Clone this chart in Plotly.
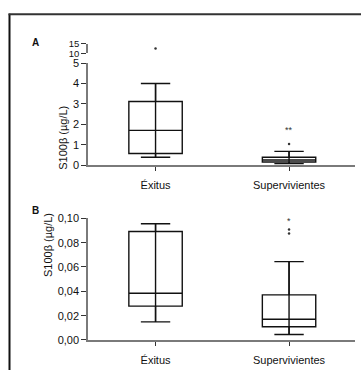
import plotly.graph_objects as go

W, H = 361, 376

cats = ["Éxitus", "Supervivientes"]

# Panel A (S100β µg/L)
a_low = [0.38, 0.07]
a_q1 = [0.57, 0.15]
a_med = [1.70, 0.25]
a_q3 = [3.12, 0.38]
a_high = [4.0, 0.67]
a_out_cat = ["Éxitus", "Supervivientes"]
a_out_val = [12.5, 1.03]
a_sig_cat = ["Supervivientes"]
a_sig_val = [1.74]
a_sig_txt = ["**"]
a_ticks_low = [0, 1, 2, 3, 4, 5]
a_ticks_up = [10, 15]

# Panel B
b_low = [0.0149, 0.0045]
b_q1 = [0.0278, 0.0109]
b_med = [0.0384, 0.0170]
b_q3 = [0.0891, 0.0371]
b_high = [0.0955, 0.0644]
b_out_cat = ["Supervivientes", "Supervivientes"]
b_out_val = [0.0907, 0.0875]
b_sig_cat = ["Supervivientes"]
b_sig_val = [0.0976]
b_sig_txt = ["*"]
b_ticks = [0.0, 0.02, 0.04, 0.06, 0.08, 0.10]
b_tick_txt = [f"{v:.2f}".replace(".", ",") for v in b_ticks]

FONT = "Liberation Sans, Arial, sans-serif"
AX = "#7a7a7a"

def px_x(p):
    return p / W

def px_y(p):
    return 1 - p / H

fig = go.Figure()

def add_panel(xa, ya, low, q1, med, q3, high):
    fig.add_trace(go.Box(
        x=cats, q1=q1, median=med, q3=q3, lowerfence=low, upperfence=high,
        width=0.4, whiskerwidth=0.55, fillcolor="rgba(0,0,0,0)",
        line=dict(color="#111", width=1.4), boxpoints=False,
        xaxis=xa, yaxis=ya, showlegend=False, hoverinfo="skip"))
    for c, lo, hi in zip(cats, low, high):
        fig.add_trace(go.Scatter(
            x=[c, c], y=[lo, hi], mode="lines",
            line=dict(color="#111", width=1.4),
            xaxis=xa, yaxis=ya, showlegend=False, hoverinfo="skip"))

add_panel("x", "y", a_low, a_q1, a_med, a_q3, a_high)
add_panel("x3", "y3", b_low, b_q1, b_med, b_q3, b_high)

# outliers panel A: split between broken axis parts
for c, v in zip(a_out_cat, a_out_val):
    fig.add_trace(go.Scatter(
        x=[c], y=[v], mode="markers",
        marker=dict(color="#333", size=2.5),
        xaxis="x2" if v >= 10 else "x", yaxis="y2" if v >= 10 else "y",
        showlegend=False, hoverinfo="skip"))
fig.add_trace(go.Scatter(
    x=b_out_cat, y=b_out_val, mode="markers",
    marker=dict(color="#333", size=2.5),
    xaxis="x3", yaxis="y3", showlegend=False, hoverinfo="skip"))

for c, v, t in zip(a_sig_cat, a_sig_val, a_sig_txt):
    fig.add_annotation(x=c, y=v, xref="x", yref="y", text=t, showarrow=False,
                       font=dict(size=9, color="#333", family=FONT))
for c, v, t in zip(b_sig_cat, b_sig_val, b_sig_txt):
    fig.add_annotation(x=c, y=v, xref="x3", yref="y3", text=t, showarrow=False,
                       font=dict(size=9, color="#333", family=FONT))

xdom = [px_x(88), px_x(355)]
xrange = [-0.506, 1.494]

def tf(size=11):
    return dict(size=size, color="#111", family=FONT)

common_x = dict(domain=xdom, range=xrange, type="category",
                categoryorder="array", categoryarray=cats,
                showline=True, linecolor=AX, linewidth=1.5,
                ticks="outside", ticklen=4, tickcolor="#333", tickwidth=1,
                ticklabelstandoff=5,
                tickfont=tf(), showgrid=False, zeroline=False)
common_y = dict(showline=True, linecolor=AX, linewidth=1.5,
                ticks="outside", ticklen=5, tickcolor="#333", tickwidth=1,
                showgrid=False, zeroline=False)

fig.update_layout(
    width=W, height=H,
    margin=dict(l=0, r=0, t=0, b=0),
    paper_bgcolor="white", plot_bgcolor="white",
    font=dict(family=FONT),
    xaxis=dict(**common_x, anchor="y"),
    yaxis=dict(**common_y, domain=[px_y(164.3), px_y(59)], range=[0, 5],
               tickvals=a_ticks_low, anchor="x", tickfont=tf()),
    xaxis2=dict(domain=xdom, range=xrange, type="category",
                categoryorder="array", categoryarray=cats,
                visible=False, anchor="y2"),
    yaxis2=dict(**common_y, domain=[px_y(49), px_y(39)], range=[10, 15],
                tickvals=a_ticks_up, anchor="x2", tickfont=tf(9.5)),
    xaxis3=dict(**common_x, anchor="y3"),
    yaxis3=dict(**common_y, domain=[px_y(345), px_y(219.3)], range=[0, 0.10],
                tickvals=b_ticks, ticktext=b_tick_txt, anchor="x3",
                tickfont=tf()),
)

# frame (left and top edges visible)
fig.add_shape(type="line", xref="paper", yref="paper",
              x0=px_x(9.5), x1=px_x(9.5), y0=0, y1=px_y(8),
              line=dict(color="#111", width=2))
fig.add_shape(type="line", xref="paper", yref="paper",
              x0=px_x(8.5), x1=1, y0=px_y(8.5), y1=px_y(8.5),
              line=dict(color="#333", width=2))

# panel letters
fig.add_annotation(x=px_x(30), y=px_y(30), xref="paper", yref="paper",
                   text="<b>A</b>", showarrow=False,
                   font=dict(size=10, color="#111", family=FONT))
fig.add_annotation(x=px_x(30), y=px_y(211), xref="paper", yref="paper",
                   text="<b>B</b>", showarrow=False,
                   font=dict(size=10, color="#111", family=FONT))

# axis titles
fig.add_annotation(x=px_x(55), y=px_y(101), xref="paper", yref="paper",
                   text="S100β (µg/L)", textangle=-90, showarrow=False,
                   font=dict(size=11, color="#111", family=FONT))
fig.add_annotation(x=px_x(40), y=px_y(282), xref="paper", yref="paper",
                   text="S100β (µg/L)", textangle=-90, showarrow=False,
                   font=dict(size=11, color="#111", family=FONT))

fig.write_html("out.html")
